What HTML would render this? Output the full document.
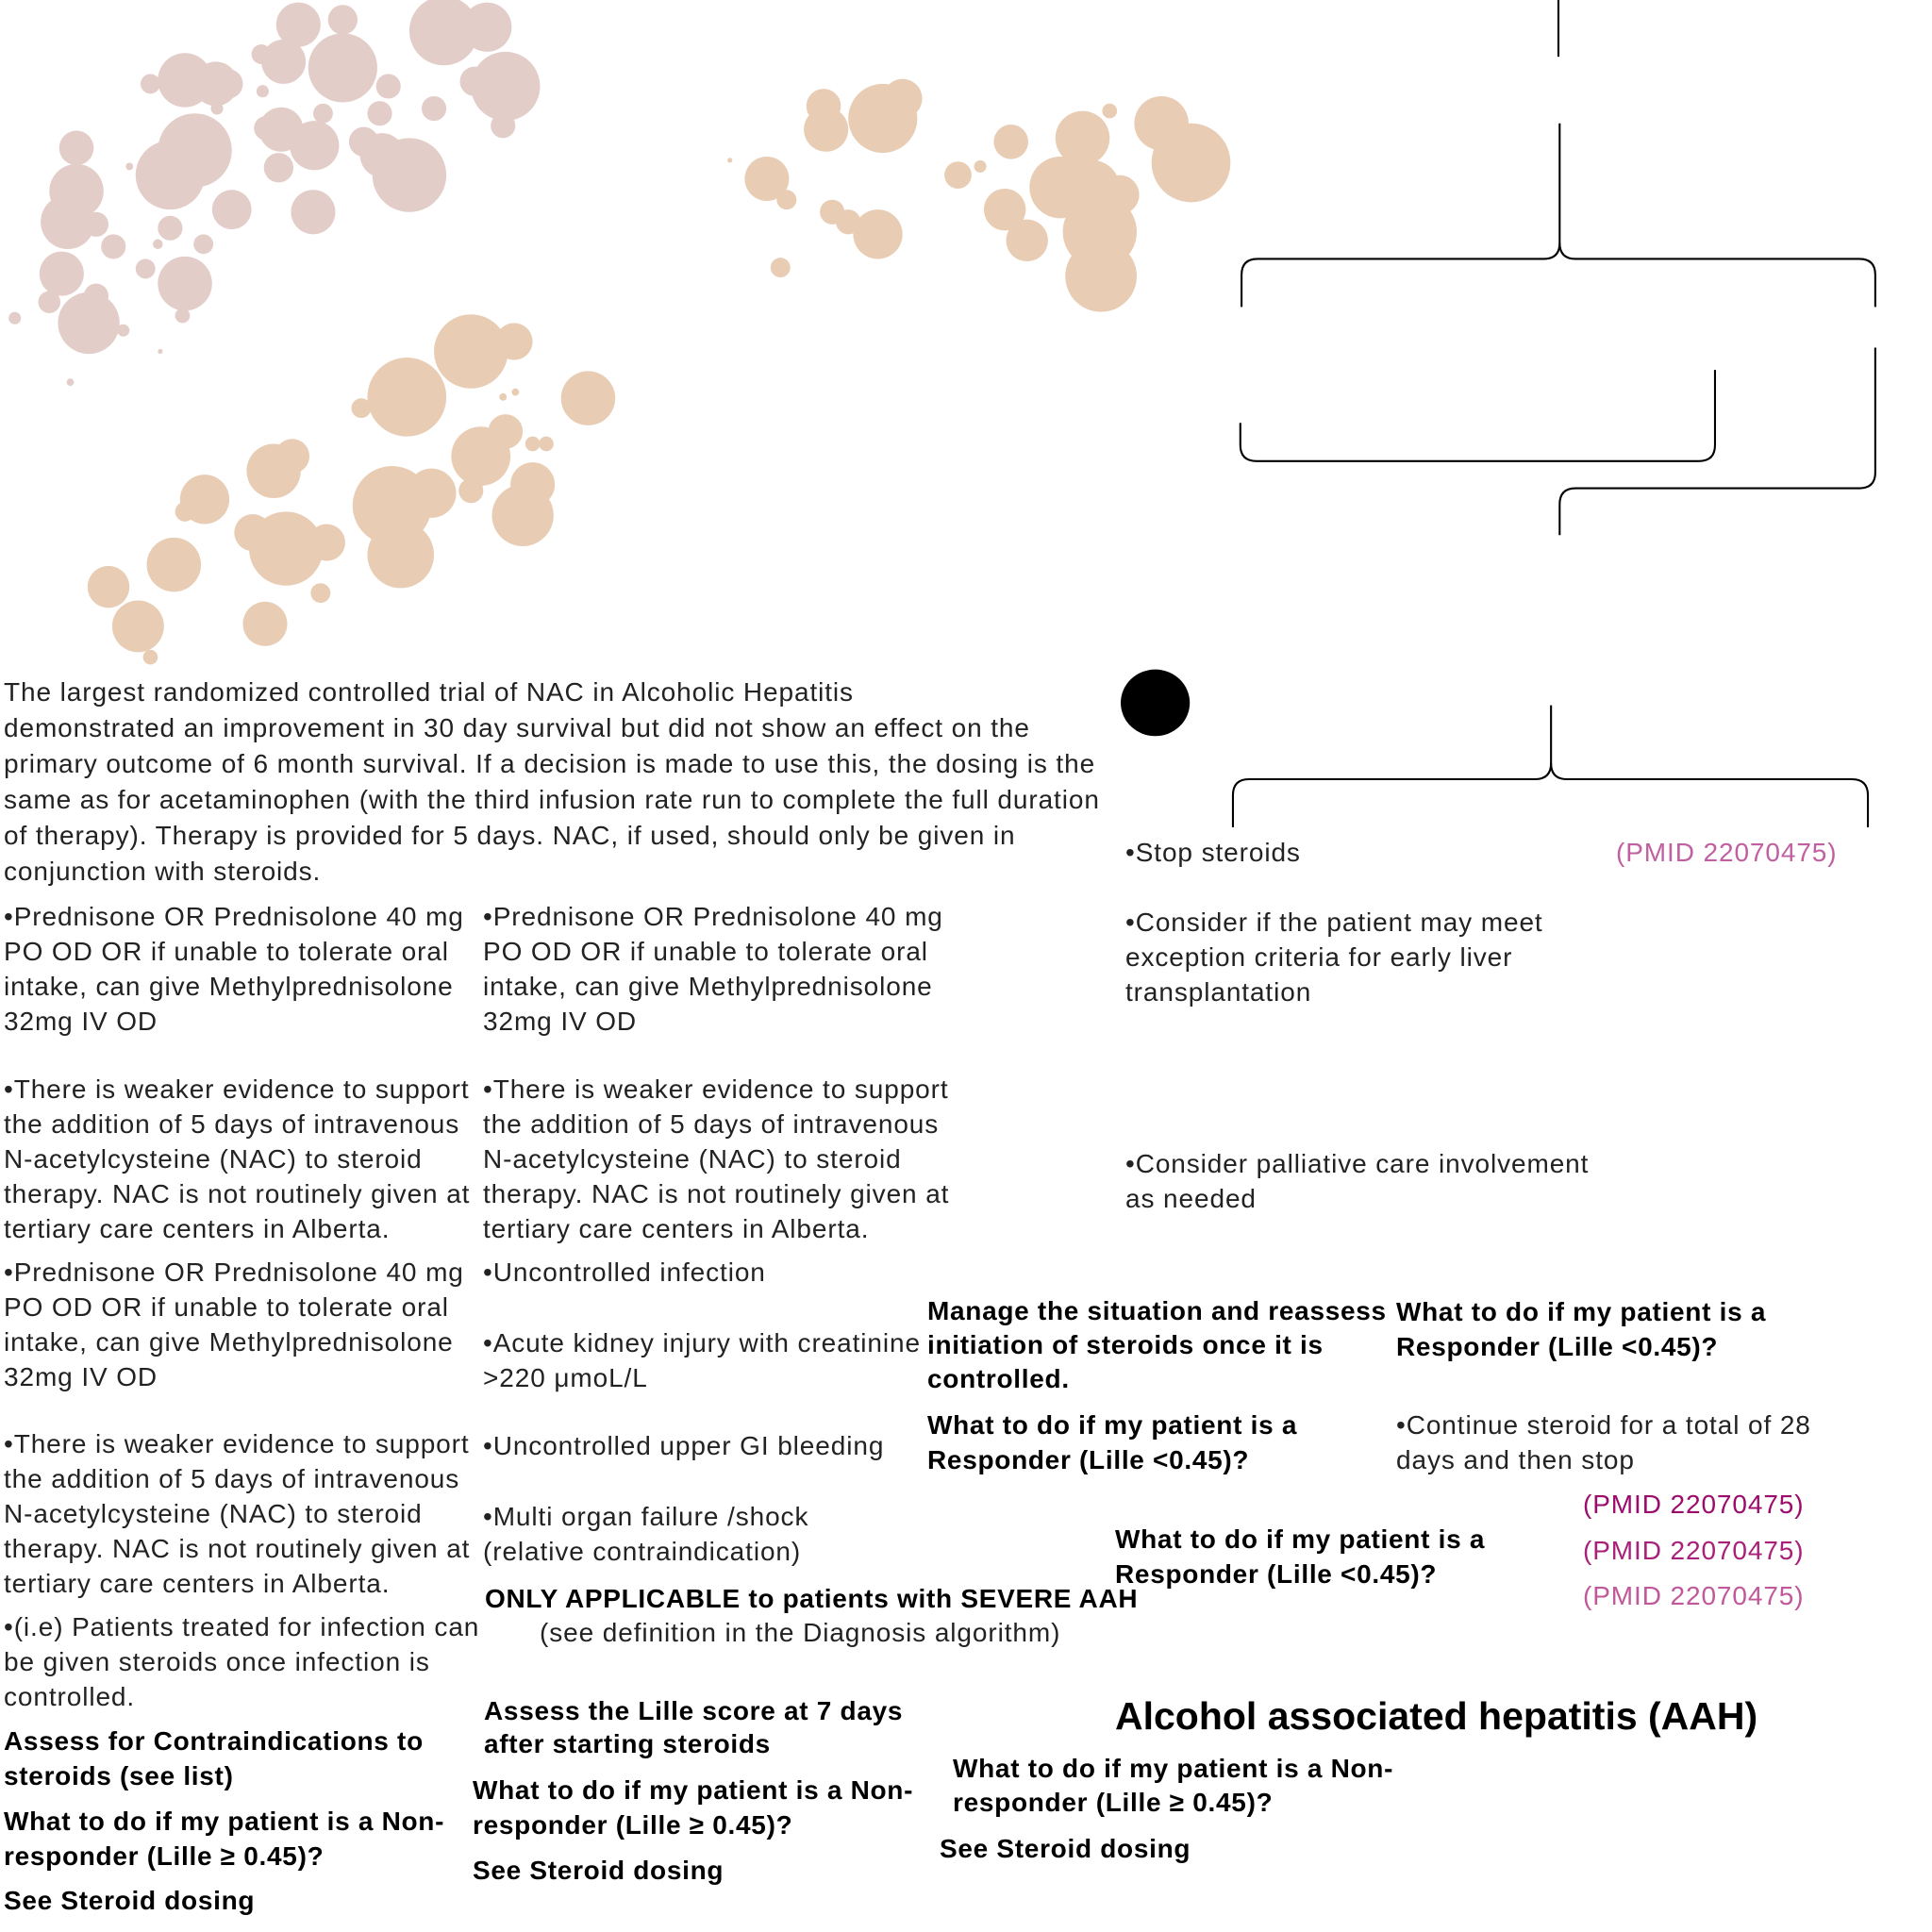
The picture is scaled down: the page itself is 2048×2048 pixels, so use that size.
<!DOCTYPE html>
<html><head><meta charset="utf-8"><style>
html,body{margin:0;padding:0;background:#fff;}
#c{position:relative;width:2048px;height:2048px;overflow:hidden;font-family:"Liberation Sans",sans-serif;color:#222;}
.t{position:absolute;font-size:28px;letter-spacing:0.9px;line-height:37px;white-space:nowrap;}
.b{font-weight:bold;color:#000;letter-spacing:0.7px;}
svg{position:absolute;left:0;top:0;}
</style></head><body><div id="c">
<svg width="2048" height="2048" viewBox="0 0 1567 1567">
<g fill="#e3cdc8">
<circle cx="242" cy="20" r="18"/><circle cx="278" cy="16" r="12"/><circle cx="278" cy="55" r="28"/><circle cx="230" cy="50" r="18"/><circle cx="212" cy="44" r="8"/><circle cx="360" cy="25" r="28"/><circle cx="395" cy="22" r="20"/><circle cx="410" cy="70" r="28"/><circle cx="385" cy="66" r="12"/><circle cx="315" cy="70" r="10"/><circle cx="308" cy="92" r="10"/><circle cx="352" cy="88" r="10"/><circle cx="408" cy="102" r="10"/><circle cx="150" cy="65" r="22"/><circle cx="175" cy="68" r="18"/><circle cx="185" cy="68" r="12"/><circle cx="122" cy="68" r="8"/><circle cx="213" cy="74" r="5"/><circle cx="176" cy="88" r="5"/><circle cx="158" cy="122" r="30"/><circle cx="138" cy="142" r="28"/><circle cx="62" cy="120" r="14"/><circle cx="62" cy="155" r="22"/><circle cx="55" cy="180" r="22"/><circle cx="78" cy="182" r="10"/><circle cx="92" cy="200" r="10"/><circle cx="50" cy="222" r="18"/><circle cx="40" cy="245" r="9"/><circle cx="72" cy="262" r="25"/><circle cx="78" cy="240" r="10"/><circle cx="150" cy="230" r="22"/><circle cx="138" cy="185" r="10"/><circle cx="165" cy="198" r="8"/><circle cx="188" cy="170" r="16"/><circle cx="254" cy="172" r="18"/><circle cx="228" cy="105" r="18"/><circle cx="255" cy="118" r="20"/><circle cx="226" cy="136" r="12"/><circle cx="295" cy="115" r="12"/><circle cx="332" cy="142" r="30"/><circle cx="310" cy="126" r="18"/><circle cx="262" cy="92" r="8"/><circle cx="216" cy="104" r="10"/><circle cx="118" cy="218" r="8"/><circle cx="148" cy="256" r="6"/><circle cx="100" cy="268" r="5"/><circle cx="12" cy="258" r="5"/><circle cx="57" cy="310" r="3"/><circle cx="130" cy="285" r="2"/><circle cx="105" cy="135" r="3"/><circle cx="128" cy="198" r="4"/>
</g>
<g fill="#e8cdb4">
<circle cx="716" cy="96" r="28"/><circle cx="732" cy="80" r="16"/><circle cx="670" cy="105" r="18"/><circle cx="668" cy="86" r="14"/><circle cx="622" cy="145" r="18"/><circle cx="638" cy="162" r="8"/><circle cx="675" cy="172" r="10"/><circle cx="688" cy="180" r="10"/><circle cx="712" cy="190" r="20"/><circle cx="633" cy="217" r="8"/><circle cx="777" cy="142" r="11"/><circle cx="795" cy="135" r="5"/><circle cx="820" cy="115" r="14"/><circle cx="878" cy="112" r="22"/><circle cx="900" cy="90" r="6"/><circle cx="942" cy="100" r="22"/><circle cx="966" cy="132" r="32"/><circle cx="860" cy="152" r="25"/><circle cx="886" cy="152" r="22"/><circle cx="908" cy="158" r="16"/><circle cx="815" cy="170" r="17"/><circle cx="833" cy="195" r="17"/><circle cx="892" cy="188" r="30"/><circle cx="893" cy="224" r="29"/><circle cx="592" cy="130" r="2"/>
<circle cx="382" cy="285" r="30"/><circle cx="417" cy="277" r="15"/><circle cx="330" cy="322" r="32"/><circle cx="293" cy="331" r="8"/><circle cx="477" cy="323" r="22"/><circle cx="390" cy="370" r="24"/><circle cx="410" cy="350" r="14"/><circle cx="382" cy="398" r="10"/><circle cx="418" cy="318" r="3"/><circle cx="408" cy="322" r="3"/><circle cx="432" cy="360" r="6"/><circle cx="443" cy="360" r="6"/><circle cx="432" cy="393" r="18"/><circle cx="424" cy="418" r="25"/><circle cx="318" cy="410" r="32"/><circle cx="325" cy="450" r="27"/><circle cx="350" cy="400" r="20"/><circle cx="222" cy="382" r="22"/><circle cx="237" cy="370" r="14"/><circle cx="166" cy="405" r="20"/><circle cx="150" cy="415" r="8"/><circle cx="232" cy="445" r="30"/><circle cx="205" cy="432" r="15"/><circle cx="265" cy="440" r="15"/><circle cx="260" cy="481" r="8"/><circle cx="141" cy="458" r="22"/><circle cx="88" cy="476" r="17"/><circle cx="112" cy="508" r="21"/><circle cx="122" cy="533" r="6"/><circle cx="215" cy="506" r="18"/>
</g>
<g fill="none" stroke="#000" stroke-width="1.6">
<path d="M1264 0V46"/>
<path d="M1265 100V197Q1265 210 1252 210H1020Q1007 210 1007 223V249"/>
<path d="M1265 197Q1265 210 1278 210H1508Q1521 210 1521 223V249"/>
<path d="M1391 300V361Q1391 374 1378 374H1019Q1006 374 1006 361V343"/>
<path d="M1521 282V383Q1521 396 1508 396H1278Q1265 396 1265 409V434"/>
<path d="M1258 572V619Q1258 632 1245 632H1013Q1000 632 1000 645V671"/>
<path d="M1258 619Q1258 632 1271 632H1502Q1515 632 1515 645V671"/>
</g>
<ellipse cx="937" cy="570" rx="28" ry="27" fill="#000"/>
</svg>

<div class="t" style="left:4px;top:715px;line-height:38px;">The largest randomized controlled trial of NAC in Alcoholic Hepatitis<br>demonstrated an improvement in 30 day survival but did not show an effect on the<br>primary outcome of 6 month survival. If a decision is made to use this, the dosing is the<br>same as for acetaminophen (with the third infusion rate run to complete the full duration<br>of therapy). Therapy is provided for 5 days. NAC, if used, should only be given in<br>conjunction with steroids.</div>

<div class="t" style="left:4px;top:953px;">•Prednisone OR Prednisolone 40 mg<br>PO OD OR if unable to tolerate oral<br>intake, can give Methylprednisolone<br>32mg IV OD</div>
<div class="t" style="left:512px;top:953px;">•Prednisone OR Prednisolone 40 mg<br>PO OD OR if unable to tolerate oral<br>intake, can give Methylprednisolone<br>32mg IV OD</div>
<div class="t" style="left:4px;top:1136px;">•There is weaker evidence to support<br>the addition of 5 days of intravenous<br>N-acetylcysteine (NAC) to steroid<br>therapy. NAC is not routinely given at<br>tertiary care centers in Alberta.</div>
<div class="t" style="left:512px;top:1136px;">•There is weaker evidence to support<br>the addition of 5 days of intravenous<br>N-acetylcysteine (NAC) to steroid<br>therapy. NAC is not routinely given at<br>tertiary care centers in Alberta.</div>
<div class="t" style="left:4px;top:1330px;">•Prednisone OR Prednisolone 40 mg<br>PO OD OR if unable to tolerate oral<br>intake, can give Methylprednisolone<br>32mg IV OD</div>
<div class="t" style="left:512px;top:1330px;">•Uncontrolled infection</div>
<div class="t" style="left:512px;top:1405px;">•Acute kidney injury with creatinine<br>&gt;220 μmoL/L</div>
<div class="t" style="left:4px;top:1512px;">•There is weaker evidence to support<br>the addition of 5 days of intravenous<br>N-acetylcysteine (NAC) to steroid<br>therapy. NAC is not routinely given at<br>tertiary care centers in Alberta.</div>
<div class="t" style="left:512px;top:1514px;">•Uncontrolled upper GI bleeding</div>
<div class="t" style="left:512px;top:1589px;">•Multi organ failure /shock<br>(relative contraindication)</div>
<div class="t b" style="left:514px;top:1676px;">ONLY APPLICABLE to patients with SEVERE AAH</div>
<div class="t" style="left:572px;top:1712px;">(see definition in the Diagnosis algorithm)</div>
<div class="t" style="left:4px;top:1706px;">•(i.e) Patients treated for infection can<br>be given steroids once infection is<br>controlled.</div>
<div class="t b" style="left:4px;top:1827px;">Assess for Contraindications to<br>steroids (see list)</div>
<div class="t b" style="left:4px;top:1912px;">What to do if my patient is a Non-<br>responder (Lille ≥ 0.45)?</div>
<div class="t b" style="left:4px;top:1996px;">See Steroid dosing</div>
<div class="t b" style="left:513px;top:1796px;line-height:35px;">Assess the Lille score at 7 days<br>after starting steroids</div>
<div class="t b" style="left:501px;top:1879px;">What to do if my patient is a Non-<br>responder (Lille ≥ 0.45)?</div>
<div class="t b" style="left:501px;top:1964px;">See Steroid dosing</div>
<div class="t b" style="left:983px;top:1372px;line-height:36px;">Manage the situation and reassess<br>initiation of steroids once it is<br>controlled.</div>
<div class="t b" style="left:983px;top:1492px;">What to do if my patient is a<br>Responder (Lille &lt;0.45)?</div>
<div class="t b" style="left:1480px;top:1372px;">What to do if my patient is a<br>Responder (Lille &lt;0.45)?</div>
<div class="t" style="left:1480px;top:1492px;">•Continue steroid for a total of 28<br>days and then stop</div>
<div class="t" style="left:1678px;top:1576px;color:#9c0c6c;">(PMID 22070475)</div>
<div class="t" style="left:1678px;top:1625px;color:#a8207a;">(PMID 22070475)</div>
<div class="t" style="left:1678px;top:1673px;color:#c0589a;">(PMID 22070475)</div>
<div class="t b" style="left:1182px;top:1613px;">What to do if my patient is a<br>Responder (Lille &lt;0.45)?</div>
<div class="t b" style="left:1182px;top:1796px;font-size:41px;line-height:46px;letter-spacing:0;">Alcohol associated hepatitis (AAH)</div>
<div class="t b" style="left:1010px;top:1857px;line-height:36px;">What to do if my patient is a Non-<br>responder (Lille ≥ 0.45)?</div>
<div class="t b" style="left:996px;top:1941px;">See Steroid dosing</div>
<div class="t" style="left:1193px;top:885px;">•Stop steroids</div>
<div class="t" style="left:1713px;top:885px;color:#c060a0;">(PMID 22070475)</div>
<div class="t" style="left:1193px;top:959px;">•Consider if the patient may meet<br>exception criteria for early liver<br>transplantation</div>
<div class="t" style="left:1193px;top:1215px;">•Consider palliative care involvement<br>as needed</div>
</div></body></html>
